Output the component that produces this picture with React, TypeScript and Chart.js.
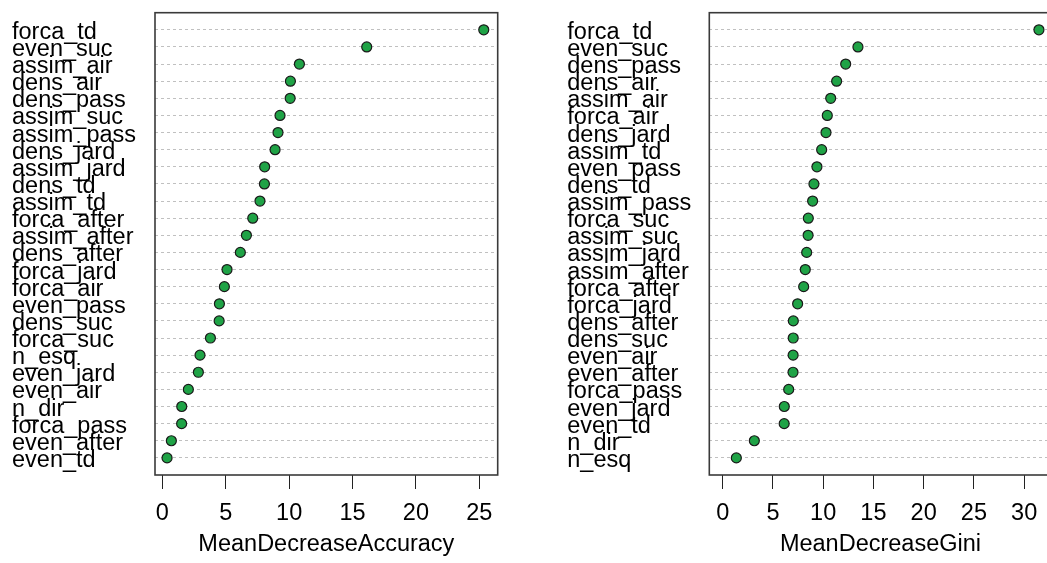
import React, { useEffect, useRef } from "react";
import { Chart, registerables } from "chart.js";

Chart.register(...registerables);

// ---- Data ----
const accLabels = [
  "forca_td", "even_suc", "assim_air", "dens_air", "dens_pass", "assim_suc",
  "assim_pass", "dens_jard", "assim_jard", "dens_td", "assim_td", "forca_after",
  "assim_after", "dens_after", "forca_jard", "forca_air", "even_pass", "dens_suc",
  "forca_suc", "n_esq", "even_jard", "even_air", "n_dir", "forca_pass",
  "even_after", "even_td",
];
const accValues = [
  25.35, 16.12, 10.81, 10.1, 10.08, 9.28, 9.12, 8.89, 8.07, 8.05, 7.7, 7.13,
  6.63, 6.15, 5.1, 4.89, 4.5, 4.48, 3.79, 2.97, 2.84, 2.05, 1.53, 1.52, 0.71, 0.37,
];
const giniLabels = [
  "forca_td", "even_suc", "dens_pass", "dens_air", "assim_air", "forca_air",
  "dens_jard", "assim_td", "even_pass", "dens_td", "assim_pass", "forca_suc",
  "assim_suc", "assim_jard", "assim_after", "forca_after", "forca_jard",
  "dens_after", "dens_suc", "even_air", "even_after", "forca_pass", "even_jard",
  "even_td", "n_dir", "n_esq",
];
const giniValues = [
  31.47, 13.46, 12.24, 11.34, 10.75, 10.41, 10.28, 9.85, 9.38, 9.08, 8.95, 8.52,
  8.5, 8.36, 8.22, 8.06, 7.46, 7.03, 7.02, 7.01, 7.0, 6.57, 6.13, 6.12, 3.15, 1.36,
];
const accTicks = [0, 5, 10, 15, 20, 25];
const giniTicks = [0, 5, 10, 15, 20, 25, 30];
const accTitle = "MeanDecreaseAccuracy";
const giniTitle = "MeanDecreaseGini";

const FONT = { family: "'Liberation Sans', Arial, sans-serif", size: 23.5 };
// labels sit slightly below their dot row (R mtext baseline placement), in row units
const LABEL_SHIFT = 0.15;

type Panel = {
  labels: string[];
  values: number[];
  ticks: number[];
  title: string;
  xMin: number;
  xMax: number;
  canvasLeft: number;
  canvasWidth: number;
  padLeft: number;
  yWidth: number;
  padRight: number;
};

const panels: Panel[] = [
  {
    labels: accLabels, values: accValues, ticks: accTicks, title: accTitle,
    xMin: -0.58, xMax: 26.45, canvasLeft: 0, canvasWidth: 540,
    padLeft: 12, yWidth: 143, padRight: 42.3,
  },
  {
    labels: giniLabels, values: giniValues, ticks: giniTicks, title: giniTitle,
    xMin: -1.33, xMax: 32.73, canvasLeft: 540, canvasWidth: 530,
    padLeft: 27.3, yWidth: 142, padRight: 18.4,
  },
];

const boxPlugin = {
  id: "rbox",
  afterDatasetsDraw(chart: any) {
    const { ctx, chartArea: a } = chart;
    ctx.save();
    ctx.strokeStyle = "#3a3a3a";
    ctx.lineWidth = 1.6;
    ctx.strokeRect(a.left, a.top, a.right - a.left, a.bottom - a.top);
    ctx.restore();
  },
};

function makeChart(canvas: HTMLCanvasElement, p: Panel) {
  const n = p.labels.length;
  const rowTicks = (s: any) => {
    s.ticks = p.labels.map((_, i) => ({ value: i + 1 }));
  };
  return new Chart(canvas, {
    type: "scatter",
    data: {
      datasets: [
        {
          data: p.values.map((v, i) => ({ x: v, y: n - i })),
          pointRadius: 5,
          pointHoverRadius: 5,
          pointBackgroundColor: "#1fa346",
          pointBorderColor: "#1a1a1a",
          pointBorderWidth: 1.2,
          showLine: false,
        },
      ],
    },
    options: {
      responsive: false,
      animation: false,
      devicePixelRatio: 1,
      layout: { padding: { left: p.padLeft, right: p.padRight, top: 12.7, bottom: 0 } },
      plugins: { legend: { display: false }, tooltip: { enabled: false } },
      scales: {
        x: {
          type: "linear",
          min: p.xMin,
          max: p.xMax,
          afterBuildTicks: (s: any) => {
            s.ticks = p.ticks.map((v) => ({ value: v }));
          },
          afterFit: (s: any) => {
            s.height = 88;
            s.paddingLeft = 0;
            s.paddingRight = 0;
          },
          grid: { drawOnChartArea: false, drawTicks: true, tickLength: 14, color: "#222", lineWidth: 1 },
          border: { display: false },
          ticks: { color: "#000", font: FONT, padding: 10, maxRotation: 0, autoSkip: false },
          title: { display: true, text: p.title, color: "#000", font: FONT, padding: { top: 0, bottom: 4 } },
        },
        y: {
          type: "linear",
          position: "left",
          min: 0,
          max: n + 1,
          afterBuildTicks: rowTicks,
          afterFit: (s: any) => {
            s.width = 0;
            s.paddingTop = 0;
            s.paddingBottom = 0;
          },
          grid: { color: "#c0c0c0", lineWidth: 1, drawTicks: false },
          border: { display: false, dash: [3, 3] },
          ticks: { display: false },
        },
        yl: {
          type: "linear",
          position: "left",
          min: LABEL_SHIFT,
          max: n + 1 + LABEL_SHIFT,
          afterBuildTicks: rowTicks,
          afterFit: (s: any) => {
            s.width = p.yWidth;
            s.paddingTop = 0;
            s.paddingBottom = 0;
          },
          grid: { display: false },
          border: { display: false },
          ticks: {
            color: "#000",
            font: { ...FONT, lineHeight: 1 },
            crossAlign: "far",
            padding: 0,
            autoSkip: false,
            callback: (v: any) => p.labels[n - Number(v)] ?? "",
          },
        },
      },
    },
    plugins: [boxPlugin],
  } as any);
}

function PanelChart({ p }: { p: Panel }) {
  const ref = useRef<HTMLCanvasElement | null>(null);
  useEffect(() => {
    if (!ref.current) return;
    const c = makeChart(ref.current, p);
    return () => c.destroy();
  }, [p]);
  return (
    <canvas
      ref={ref}
      width={p.canvasWidth}
      height={563}
      style={{ position: "absolute", left: p.canvasLeft, top: 0, width: p.canvasWidth, height: 563, display: "block" }}
    />
  );
}

export default function App() {
  return (
    <div
      style={{
        position: "fixed",
        left: 0,
        top: 0,
        width: 1047,
        height: 563,
        overflow: "hidden",
        background: "#fff",
      }}
    >
      {panels.map((p, i) => (
        <PanelChart key={i} p={p} />
      ))}
    </div>
  );
}
